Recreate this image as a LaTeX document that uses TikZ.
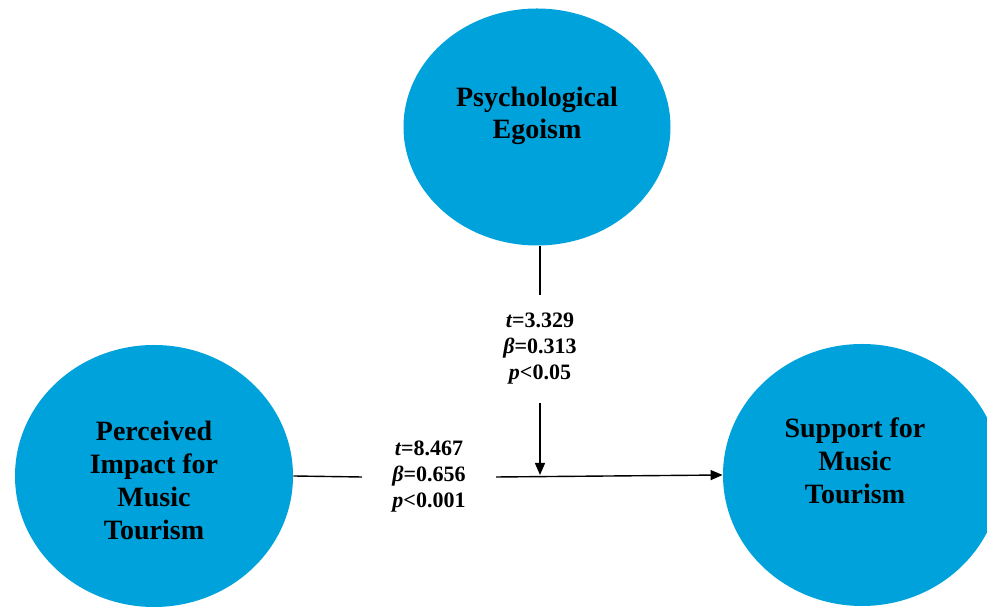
\documentclass[tikz,border=0pt]{standalone}
\usepackage{fontspec}
\setmainfont{Liberation Serif}
\usepackage{tikz}
\usetikzlibrary{positioning, arrows.meta, shapes.geometric}
\definecolor{cFactor}{HTML}{00A2DB}

\tikzset{
  factor/.style={ellipse, fill=cFactor, draw=none, inner sep=0pt},
  factorText/.style={align=center, text=black, inner sep=0pt,
    font=\bfseries\fontsize{14}{16.5}\selectfont},
  stats/.style={align=center, fill=white, inner xsep=15pt, inner ysep=9pt,
    font=\bfseries\fontsize{11}{13}\selectfont},
  link/.style={line width=0.7pt, draw=black},
  linkArrow/.style={link, -{Triangle[length=6pt, width=5pt]}},
}

\begin{document}
\begin{tikzpicture}[x=0.5pt, y=0.5pt]
        \useasboundingbox (0,0) rectangle (987,610);
        \node[factor, minimum width=133.5pt, minimum height=118.5pt] (pe) at (537, 483) {};
        \node[factor, minimum width=139pt, minimum height=131pt] (pim) at (154, 134) {};
        \node[factor, minimum width=139pt, minimum height=131pt] (sup) at (862, 135) {};
        \node[factorText, font=\bfseries\fontsize{14}{15.8}\selectfont] (peText) at (537, 494) {Psychological\\Egoism};
        \node[factorText] (pimText) at (154, 130) {Perceived\\Impact for\\Music\\Tourism};
        \node[factorText] (supText) at (855, 149) {Support for\\Music\\Tourism};
        \node[stats] (modStats) at (540, 261) {{\itshape t}=3.329\\{\itshape β}=0.313\\{\itshape p}<0.05};
        \node[stats] (mainStats) at (429, 133) {{\itshape t}=8.467\\{\itshape β}=0.656\\{\itshape p}<0.001};
        \coordinate (meet) at (modStats.south |- sup.west);
        \draw[link] (pim.east) -- (mainStats.west);
        \draw[linkArrow] (mainStats.east) -- (sup.west);
        \draw[link] (modStats.north |- pe.south) -- (modStats.north);
        \draw[linkArrow] (modStats.south) -- (meet);
      \end{tikzpicture}
\end{document}
